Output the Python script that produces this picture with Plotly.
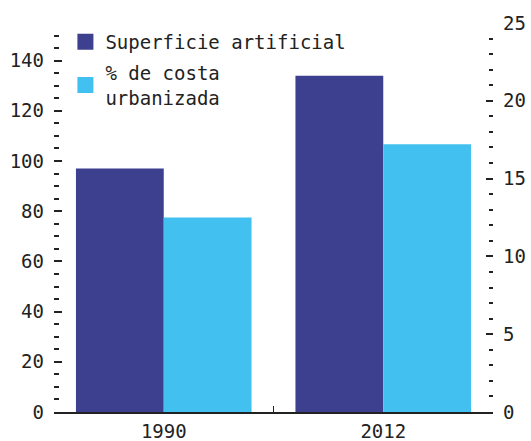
import plotly.graph_objects as go

years = ["1990", "2012"]
superficie = [97, 134]
costa = [12.5, 17.2]
name_sup = "Superficie artificial"
name_costa = "% de costa<br>urbanizada"

dark = "#3d3f8f"
light = "#42c1f0"
font = "DejaVu Sans Mono"
ink = "#222222"

fig = go.Figure()
fig.add_trace(go.Bar(x=years, y=superficie, marker=dict(color=dark, line=dict(width=0)),
                     alignmentgroup="g", offsetgroup="a", yaxis="y", showlegend=False, name=name_sup))
fig.add_trace(go.Bar(x=years, y=costa, marker=dict(color=light, line=dict(width=0)),
                     alignmentgroup="g", offsetgroup="b", yaxis="y2", showlegend=False, name=name_costa))
fig.add_trace(go.Scatter(x=[None], y=[None], mode="markers", name=name_sup, legendgroup="a",
                         marker=dict(symbol="square", size=18, color=dark)))
fig.add_trace(go.Scatter(x=[None], y=[None], mode="markers", name=name_costa, legendgroup="b",
                         marker=dict(symbol="square", size=18, color=light)))

fig.update_layout(
    width=531, height=441,
    margin=dict(l=54, r=38, t=23, b=29),
    plot_bgcolor="white", paper_bgcolor="white",
    barmode="group", bargap=0.2, bargroupgap=0,
    font=dict(family=font, size=19, color=ink),
    xaxis=dict(type="category", range=[-0.5, 1.5], tickson="boundaries", ticks="inside",
               ticklen=6, tickcolor=ink, tickwidth=1, showline=True, linecolor=ink, linewidth=1.5,
               showgrid=False, zeroline=False, automargin=False, ticklabelstandoff=1),
    yaxis=dict(range=[0, 155], tick0=0, dtick=20, ticks="inside", ticklen=8, tickcolor=ink,
               tickwidth=1.5, showgrid=False, zeroline=False, showline=False, automargin=False,
               ticklabelstandoff=9,
               minor=dict(tick0=0, dtick=5, ticks="inside", ticklen=5, tickcolor=ink, tickwidth=1.5)),
    yaxis2=dict(overlaying="y", side="right", range=[0, 25], tick0=0, dtick=5, ticks="inside",
                ticklen=7, tickcolor=ink, tickwidth=1.5, showgrid=False, zeroline=False, showline=False,
                automargin=False, ticklabelstandoff=9,
                minor=dict(tick0=0, dtick=1, ticks="inside", ticklen=4, tickcolor=ink, tickwidth=1.5)),
    legend=dict(x=0.026, y=1.0, xanchor="left", yanchor="top", bgcolor="rgba(0,0,0,0)",
                itemsizing="trace", font=dict(size=19), traceorder="grouped", tracegroupgap=3),
)

fig.write_html("out.html", config={"displayModeBar": False},
               post_script="document.body.style.margin='0';document.body.style.overflow='hidden';")
